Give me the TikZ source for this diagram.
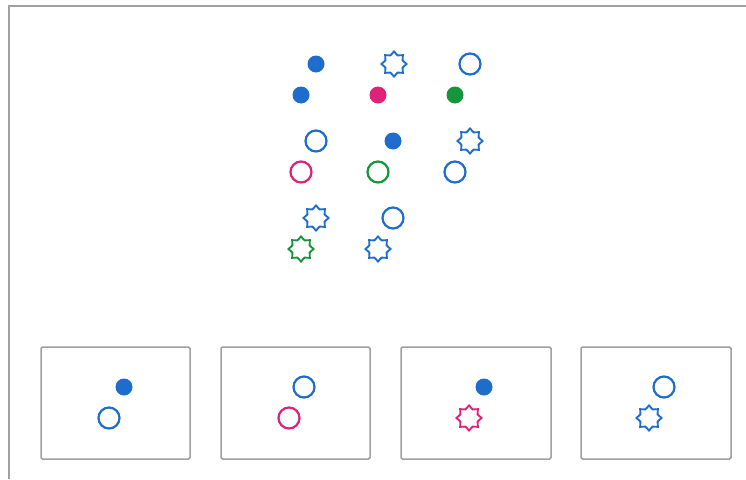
\documentclass[tikz,border=0pt]{standalone}
\usetikzlibrary{shapes.geometric}
\definecolor{cblue}{RGB}{30,108,204}
\definecolor{cmag}{RGB}{222,34,120}
\definecolor{cgreen}{RGB}{22,150,60}
\definecolor{frame}{RGB}{160,160,160}
\tikzset{
  dotf/.style={circle,fill=#1,draw=none,minimum size=17pt,inner sep=0pt},
  ring/.style={circle,draw=#1,line width=2.2pt,minimum size=21pt,inner sep=0pt},
  starr/.style={star,star points=8,star point ratio=1.34,draw=#1,line width=1.9pt,minimum size=25pt,inner sep=0pt},
  choice/.style={draw=frame,line width=1.5pt,rounded corners=1.5pt}
}
\begin{document}
\begin{tikzpicture}[x=1pt,y=1pt]
\useasboundingbox (0,0) rectangle (746,-479);
% outer frame
\draw[frame,line width=1.3pt] (9,-479) -- (9,-6) -- (746,-6);
% matrix
\node[dotf=cblue] (a1) at (316,-64) {};
\node[starr=cblue] (a2) at (394,-64) {};
\node[ring=cblue] (a3) at (470,-64) {};
\node[dotf=cblue] (b1) at (301,-95) {};
\node[dotf=cmag] (b2) at (378,-95) {};
\node[dotf=cgreen] (b3) at (455,-95) {};
\node[ring=cblue] (c1) at (316,-141) {};
\node[dotf=cblue] (c2) at (393,-141) {};
\node[starr=cblue] (c3) at (470,-141) {};
\node[ring=cmag] (d1) at (301,-172) {};
\node[ring=cgreen] (d2) at (378,-172) {};
\node[ring=cblue] (d3) at (455,-172) {};
\node[starr=cblue] (e1) at (316,-218) {};
\node[ring=cblue] (e2) at (393,-218) {};
\node[starr=cgreen] (f1) at (301,-249) {};
\node[starr=cblue] (f2) at (378,-249) {};
% choices
\draw[choice] (41,-347) rectangle (190,-459);
\draw[choice] (221,-347) rectangle (370,-459);
\draw[choice] (401,-347) rectangle (551,-459);
\draw[choice] (581,-347) rectangle (731,-459);
\node[dotf=cblue] (g1) at (124,-387) {};
\node[ring=cblue] (h1) at (109,-418) {};
\node[ring=cblue] (g2) at (304,-387) {};
\node[ring=cmag] (h2) at (289,-418) {};
\node[dotf=cblue] (g3) at (484,-387) {};
\node[starr=cmag] (h3) at (469,-418) {};
\node[ring=cblue] (g4) at (664,-387) {};
\node[starr=cblue] (h4) at (649,-418) {};
\end{tikzpicture}
\end{document}
